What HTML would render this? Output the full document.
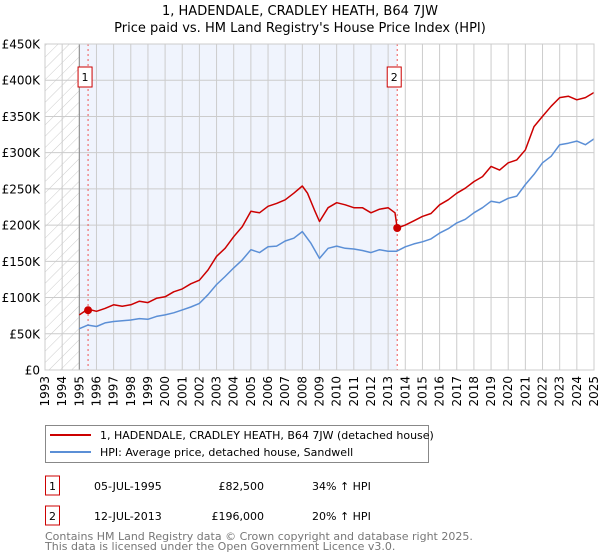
<!DOCTYPE html>
<html><head><meta charset="utf-8"><style>
body{margin:0;background:#fff;font-family:"DejaVu Sans","Liberation Sans",sans-serif;}
#wrap{position:relative;width:600px;height:560px;overflow:hidden;}
</style></head><body>
<div id="wrap">
<svg id="chart" width="600" height="560" style="position:absolute;left:0;top:0"></svg>
</div>
<script>
const titleLines=["1, HADENDALE, CRADLEY HEATH, B64 7JW","Price paid vs. HM Land Registry's House Price Index (HPI)"];
const yTicks=[0,50,100,150,200,250,300,350,400,450];
const yTickLabels=["£0","£50K","£100K","£150K","£200K","£250K","£300K","£350K","£400K","£450K"];
const xYears=[1993,1994,1995,1996,1997,1998,1999,2000,2001,2002,2003,2004,2005,2006,2007,2008,2009,2010,2011,2012,2013,2014,2015,2016,2017,2018,2019,2020,2021,2022,2023,2024,2025];
const hpiX=[1995,1995.5,1996,1996.5,1997,1998,1998.5,1999,1999.5,2000,2000.5,2001,2001.5,2002,2002.5,2003,2003.5,2004,2004.5,2005,2005.5,2006,2006.5,2007,2007.5,2008,2008.5,2009,2009.5,2010,2010.5,2011,2011.5,2012,2012.5,2013,2013.5,2014,2014.5,2015,2015.5,2016,2016.5,2017,2017.5,2018,2018.5,2019,2019.5,2020,2020.5,2021,2021.5,2022,2022.5,2023,2023.5,2024,2024.5,2025];
const hpiY=[57,62,60,65,67,69,71,70,74,76,79,83,87,92,104,118,129,141,152,166,162,170,171,178,182,191,175,154,168,171,168,167,165,162,166,164,164,170,174,177,181,189,195,203,208,217,224,233,231,237,240,256,270,286,295,311,313,316,311,319];
const priceX=[1995,1995.5,1996,1996.5,1997,1997.5,1998,1998.5,1999,1999.5,2000,2000.5,2001,2001.5,2002,2002.5,2003,2003.5,2004,2004.5,2005,2005.5,2006,2006.5,2007,2007.5,2008,2008.3,2008.7,2009,2009.5,2010,2010.5,2011,2011.5,2012,2012.5,2013,2013.4,2013.53,2014,2014.5,2015,2015.5,2016,2016.5,2017,2017.5,2018,2018.5,2019,2019.5,2020,2020.5,2021,2021.5,2022,2022.5,2023,2023.5,2024,2024.5,2025];
const priceY=[76,84,81,85,90,88,90,95,93,99,101,108,112,119,124,138,157,168,184,198,219,217,226,230,235,244,254,244,221,205,224,231,228,224,224,217,222,224,217,196,200,206,212,216,228,235,244,251,260,267,281,276,286,290,304,336,350,364,376,378,373,376,383];
const saleYears=[1995.51,2013.53];
const saleValues=[82.5,196];
const saleLabels=["1","2"];
const saleDates=["05-JUL-1995","12-JUL-2013"];
const salePrices=["£82,500","£196,000"];
const saleHpi=["34% ↑ HPI","20% ↑ HPI"];

const L=45,R=594,T=44,B=370;
const xs=y=>L+(y-1993)/(2025-1993)*(R-L);
const ys=v=>B-v/450*(B-T);
const svg=document.getElementById('chart');
const NS='http://www.w3.org/2000/svg';
function mk(tag,attrs,parent){const e=document.createElementNS(NS,tag);for(const k in attrs)e.setAttribute(k,attrs[k]);(parent||svg).appendChild(e);return e;}
function txt(s,attrs,parent){const e=mk('text',attrs,parent);e.textContent=s;return e;}

const defs=mk('defs',{});
const pat=mk('pattern',{id:'hatch',width:8,height:8,patternUnits:'userSpaceOnUse',patternTransform:'rotate(45)'},defs);
mk('line',{x1:0,y1:0,x2:0,y2:8,stroke:'#ccc','stroke-width':1},pat);

titleLines.forEach((s,i)=>{const e=txt(s,{x:300,y:15+i*17,'text-anchor':'middle','font-size':13,fill:'#000'});

});

let r=mk('rect',{x:L,y:T,width:xs(1995)-L,height:B-T,fill:'url(#hatch)'});


r=mk('rect',{x:xs(1995),y:T,width:xs(saleYears[1])-xs(1995),height:B-T,fill:'#f0f4fd'});



xYears.forEach(y=>{const l=mk('line',{x1:xs(y),x2:xs(y),y1:T,y2:B,stroke:'#ccc','stroke-width':1});


const t=txt(String(y),{x:0,y:0,'font-size':12,'text-anchor':'end',transform:`translate(${xs(y)+4},${B+6}) rotate(-90)`,fill:'#000'});

});
yTicks.forEach((v,i)=>{const l=mk('line',{x1:L,x2:R,y1:ys(v),y2:ys(v),stroke:'#ccc','stroke-width':1});


const t=txt(yTickLabels[i],{x:40,y:ys(v)+4.5,'font-size':12,'text-anchor':'end',fill:'#000'});

});
let ax=mk('line',{x1:xs(1995),x2:xs(1995),y1:T,y2:B,stroke:'#888','stroke-width':1});



saleYears.forEach((y,i)=>{const l=mk('line',{x1:xs(y),x2:xs(y),y1:T,y2:B,stroke:'#e55','stroke-width':1,'stroke-dasharray':'2,3'});

});

function path(X,Y,color,name){const d=X.map((x,i)=>(i?'L':'M')+xs(x).toFixed(1)+','+ys(Y[i]).toFixed(1)).join('');
const p=mk('path',{d,fill:'none',stroke:color,'stroke-width':1.5,'stroke-linejoin':'round'});

}
path(hpiX,hpiY,'#5b8fd6','hpi-line');
path(priceX,priceY,'#cc0000','price-paid-line');

saleYears.forEach((y,i)=>{const c=mk('circle',{cx:xs(y),cy:ys(saleValues[i]),r:4,fill:'#cc0000'});


const g=mk('g',{});


mk('rect',{x:xs(y)-10,y:67,width:14,height:20,fill:'#fff',stroke:'#cc0000','stroke-width':1},g);
txt(saleLabels[i],{x:xs(y)-3,y:81,'font-size':11,'text-anchor':'middle'},g);});

let fr=mk('rect',{x:L,y:T,width:R-L,height:B-T,fill:'none',stroke:'#ccc'});



const lg=mk('g',{});


mk('rect',{x:45.5,y:425.5,width:383,height:37,fill:'#fff',stroke:'#888'},lg);
mk('line',{x1:50,x2:91,y1:435,y2:435,stroke:'#cc0000','stroke-width':2},lg);
mk('line',{x1:50,x2:91,y1:452,y2:452,stroke:'#5b8fd6','stroke-width':2},lg);
txt('1, HADENDALE, CRADLEY HEATH, B64 7JW (detached house)',{x:100,y:439,'font-size':11},lg);
txt('HPI: Average price, detached house, Sandwell',{x:100,y:456,'font-size':11},lg);

saleYears.forEach((y,i)=>{const g=mk('g',{});


const yy=476+i*30;
mk('rect',{x:45.5,y:yy,width:14,height:19,fill:'#fff',stroke:'#cc0000'},g);
txt(saleLabels[i],{x:52.5,y:yy+14,'font-size':11,'text-anchor':'middle'},g);
txt(saleDates[i],{x:94,y:yy+14,'font-size':11},g);
txt(salePrices[i],{x:264,y:yy+14,'font-size':11,'text-anchor':'end'},g);
txt(saleHpi[i],{x:312,y:yy+14,'font-size':11},g);});

let f=txt('Contains HM Land Registry data © Crown copyright and database right 2025.',{x:45,y:540,'font-size':11,fill:'#777'});


f=txt('This data is licensed under the Open Government Licence v3.0.',{x:45,y:550,'font-size':11,fill:'#777'});


</script>
</body></html>
